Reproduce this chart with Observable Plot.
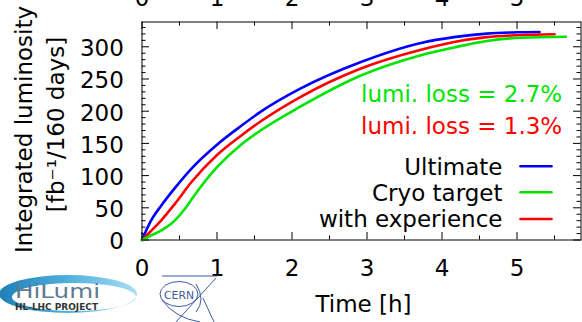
<!DOCTYPE html>
<html><head><meta charset="utf-8">
<script src="https://cdn.jsdelivr.net/npm/d3@7"></script>
<script src="https://cdn.jsdelivr.net/npm/@observablehq/plot@0.6"></script>
<style>
body{margin:0;background:#fff;}
#wrap{position:relative;width:582px;height:322px;overflow:hidden;background:#fff;}
#logos{position:absolute;left:0;top:0;}
</style></head><body><div id="wrap"></div>
<script>
// ---- data ----
const timeUltimate = [0, 0.12, 0.26, 0.44, 0.66, 1.0, 1.32, 1.58, 2.11, 2.91, 3.72, 4.16, 4.6, 5.0, 5.3];
const lumiUltimate = [0, 30, 54, 81, 111, 148, 177, 199, 235, 276, 306, 315, 320.5, 322.5, 323];
const timeCryo = [0, 0.12, 0.26, 0.44, 0.57, 0.66, 1.0, 1.32, 1.58, 2.11, 2.91, 3.72, 4.16, 4.6, 5.05, 5.65];
const lumiCryo = [0, 7, 15, 30.5, 48, 63, 113, 148, 170, 207, 255, 287, 299, 309, 314, 315.5];
const timeExperience = [0, 0.12, 0.26, 0.44, 0.66, 1.0, 1.32, 1.58, 2.11, 2.91, 3.72, 4.16, 4.6, 5.0, 5.5];
const lumiExperience = [0, 14, 31, 56.5, 90, 132, 162, 184, 222, 266, 295.5, 307.5, 315, 318, 319.5];
const legendLabels = ["Ultimate", "Cryo target", "with experience"];
const lossLabels = ["lumi. loss = 2.7%", "lumi. loss = 1.3%"];
const xMajor = [0, 1, 2, 3, 4, 5];
const xMinor = [0.5, 1.5, 2.5, 3.5, 4.5, 5.5];
const yMajor = [0, 50, 100, 150, 200, 250, 300];
const yMinor = [10,20,30,40,60,70,80,90,110,120,130,140,160,170,180,190,210,220,230,240,260,270,280,290,310,320,330];
const xTitle = "Time [h]";
const yTitle1 = "Integrated luminosity";
const yTitle2 = "[fb\u207B\u00B9/160 days]";

// ---- styles ----
const BLUE = "#0000ff", GREEN = "#00e400", RED = "#ff0000";
const FONT = "DejaVu Sans";
const FW = 439, FH = 218; // frame size in px
const series = [
  {t: timeUltimate, v: lumiUltimate, c: BLUE},
  {t: timeExperience, v: lumiExperience, c: RED},
  {t: timeCryo, v: lumiCryo, c: GREEN}
];
const lineShape = {draw(ctx, l) { ctx.moveTo(0, 0); ctx.lineTo(0, -l); }};
const fmt = d => String(d);

const marks = [];
// tick marks (inward)
marks.push(Plot.ruleX(xMajor, {x: d => d, insetTop: FH - 7.5, stroke: "black"}));
marks.push(Plot.ruleX(xMinor, {x: d => d, insetTop: FH - 4, stroke: "black"}));
marks.push(Plot.ruleX(xMajor, {x: d => d, insetBottom: FH - 7.5, stroke: "black"}));
marks.push(Plot.ruleX(xMinor, {x: d => d, insetBottom: FH - 4, stroke: "black"}));
marks.push(Plot.ruleY(yMajor, {y: d => d, insetRight: FW - 7.5, stroke: "black"}));
marks.push(Plot.ruleY(yMinor, {y: d => d, insetRight: FW - 4, stroke: "black"}));
marks.push(Plot.ruleY(yMajor, {y: d => d, insetLeft: FW - 7.5, stroke: "black"}));
marks.push(Plot.ruleY(yMinor, {y: d => d, insetLeft: FW - 4, stroke: "black"}));
// axes labels
marks.push(Plot.axisX({anchor: "bottom", ticks: xMajor, tickFormat: fmt, tickSize: 0, tickPadding: 19.2, label: null, fontSize: 23}));
marks.push(Plot.axisX({anchor: "top", ticks: xMajor, tickFormat: fmt, tickSize: 0, tickPadding: 16.5, label: null, fontSize: 23}));
marks.push(Plot.axisY({anchor: "left", ticks: yMajor, tickFormat: fmt, tickSize: 0, tickPadding: 18.2, dy: 2, label: null, fontSize: 23}));
// curves
for (const s of series) {
  marks.push(Plot.line(s.t.map((t, i) => ({t, v: s.v[i]})), {x: "t", y: "v", stroke: s.c, strokeWidth: 2.6, curve: "monotone-x"}));
}
marks.push(Plot.frame({stroke: "black", strokeWidth: 1}));
// annotations
marks.push(Plot.text([lossLabels[0]], {text: d => d, frameAnchor: "top-right", textAnchor: "end", lineAnchor: "bottom", dx: -18.8, dy: 80.2, fill: GREEN, fontSize: 23}));
marks.push(Plot.text([lossLabels[1]], {text: d => d, frameAnchor: "top-right", textAnchor: "end", lineAnchor: "bottom", dx: -18.8, dy: 111.8, fill: RED, fontSize: 23}));
// legend
const legendColors = [BLUE, GREEN, RED];
const legendDy = [152.5, 178.5, 205.2];
legendLabels.forEach((lab, i) => {
  marks.push(Plot.text([lab], {text: d => d, frameAnchor: "top-right", textAnchor: "end", lineAnchor: "bottom", dx: -78.5, dy: legendDy[i], fill: "black", fontSize: 23}));
  marks.push(Plot.vector([lab], {frameAnchor: "top-right", dx: -60.5, dy: legendDy[i] - 8.2, length: 31, rotate: 90, anchor: "start", shape: lineShape, stroke: legendColors[i], strokeWidth: 2.6}));
});
// axis titles
marks.push(Plot.text([xTitle], {text: d => d, frameAnchor: "bottom", textAnchor: "middle", lineAnchor: "bottom", dx: 2, dy: 72.2, fontSize: 23}));
marks.push(Plot.text([yTitle1], {text: d => d, frameAnchor: "left", rotate: -90, textAnchor: "middle", lineAnchor: "bottom", dx: -109.8, dy: -1.5, fontSize: 23}));
marks.push(Plot.text([yTitle2], {text: d => d, frameAnchor: "left", rotate: -90, textAnchor: "middle", lineAnchor: "bottom", dx: -78.2, dy: -6.5, fontSize: 23}));

const chart = Plot.plot({
  width: 582, height: 322,
  marginLeft: 141.5, marginRight: 1.5, marginTop: 21.5, marginBottom: 82.5,
  x: {domain: [0, 5.853], axis: null},
  y: {domain: [0, 338.5], axis: null},
  style: {fontFamily: FONT, fontSize: "23px", background: "white", color: "black", overflow: "visible"},
  marks
});
const wrap = document.getElementById("wrap");
wrap.appendChild(chart);

// ---- logos (decorative) ----
const ns = "http://www.w3.org/2000/svg";
wrap.insertAdjacentHTML("beforeend", `
<svg id="logos" width="582" height="322" xmlns="${ns}">
  <defs>
    <linearGradient id="sw" x1="0" x2="1" y1="0" y2="0">
      <stop offset="0" stop-color="#1f7fb8"/>
      <stop offset="0.5" stop-color="#4fb0dc"/>
      <stop offset="1" stop-color="#a9def2"/>
    </linearGradient>
  </defs>
  <path fill="url(#sw)" fill-rule="evenodd" d="M -1 294 A 69 19 0 1 0 137 294 A 69 19 0 1 0 -1 294 Z M 12 297 A 62 14 0 1 0 136 297 A 62 14 0 1 0 12 297 Z"/>
  <text x="15" y="298" font-family="DejaVu Sans" font-size="20" fill="#5d7b93" textLength="85" lengthAdjust="spacingAndGlyphs">HiLumi</text>
  <text x="15" y="310" font-family="DejaVu Sans" font-weight="bold" font-size="8" fill="#333" textLength="83" lengthAdjust="spacingAndGlyphs">HL-LHC  PROJECT</text>
  <g stroke="#3c5aa6" fill="none" stroke-width="1">
    <ellipse cx="179" cy="294" rx="19" ry="12.5"/>
    <path d="M 162 276 L 217 276"/>
    <path d="M 216 278 L 176 322"/>
    <path d="M 203 298 L 214 322"/>
    <path d="M 162 300 Q 175 318 200 322"/>
    <path d="M 196 284 Q 206 300 196 312"/>
  </g>
  <text x="179" y="298.5" text-anchor="middle" font-family="DejaVu Sans" font-size="10" fill="#3c5aa6" textLength="30" lengthAdjust="spacingAndGlyphs">CERN</text>
</svg>`);
</script>
</body></html>
